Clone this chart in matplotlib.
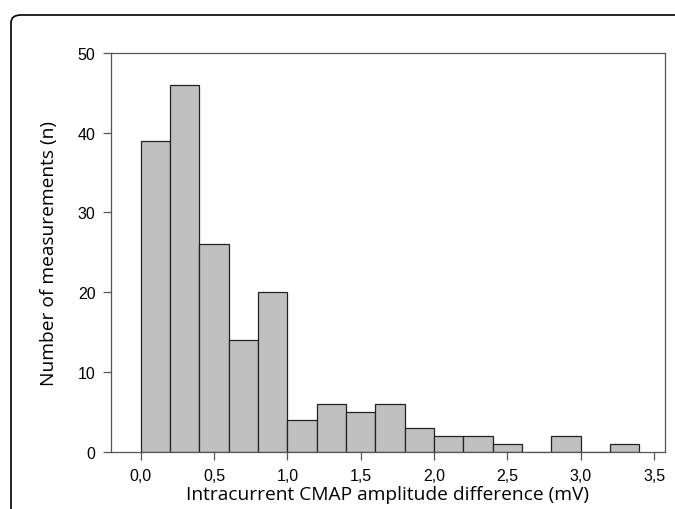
'''
histogram of intracurrent CMAP amplitude differences
'''
import numpy as np
import matplotlib
matplotlib.use('Agg')
import matplotlib.pyplot as plt
from matplotlib.patches import FancyBboxPatch
from matplotlib.ticker import FuncFormatter

## bin edges (mV) and counts
binLeft = [0.0, 0.2, 0.4, 0.6, 0.8, 1.0, 1.2, 1.4, 1.6, 1.8, 2.0, 2.2, 2.4, 2.6, 2.8, 3.0, 3.2]
counts = [39, 46, 26, 14, 20, 4, 6, 5, 6, 3, 2, 2, 1, 0, 2, 0, 1]
binWidth = 0.2
xTicks = [0.0, 0.5, 1.0, 1.5, 2.0, 2.5, 3.0, 3.5]
yTicks = [0, 10, 20, 30, 40, 50]


def main():
	fig = plt.figure(figsize=(6.75, 5.1), dpi=100)
	# rounded frame around the whole figure (cut at right and bottom)
	frame = FancyBboxPatch((11/675., -0.05), 1.0, 1.0 - 16/510. + 0.05,
		boxstyle="round,pad=0,rounding_size=0.015", transform=fig.transFigure,
		facecolor='none', edgecolor='black', linewidth=1.2, clip_on=False)
	fig.patches.append(frame)

	ax = fig.add_axes([110.7/675., 1 - 452.7/510., (665 - 110.7)/675., (452.7 - 54)/510.])
	ax.bar(binLeft, counts, width=binWidth, align='edge', color='#c0c0c0',
		edgecolor='#222222', linewidth=0.9)
	ax.set_xlim(-0.205, 3.574)
	ax.set_ylim(0, 50)
	ax.set_xticks(xTicks)
	ax.set_yticks(yTicks)
	ax.xaxis.set_major_formatter(FuncFormatter(lambda v, p: ('%.1f' % v).replace('.', ',')))
	for s in ax.spines.values():
		s.set_color('#555555')
		s.set_linewidth(0.9)
	ax.tick_params(direction='out', length=6, width=0.9, color='#555555',
		labelsize=11.5)
	ax.tick_params(axis='x', pad=6)
	ax.tick_params(axis='y', pad=5)
	for lab in ax.get_xticklabels() + ax.get_yticklabels():
		lab.set_family('Liberation Sans')
	ax.set_xlabel('Intracurrent CMAP amplitude difference (mV)', fontsize=13.8,
		family='Open Sans', labelpad=1)
	ax.set_ylabel('Number of measurements (n)', fontsize=13.8,
		family='Open Sans', labelpad=14)
	plt.savefig('out.png', dpi=100)


if __name__ == '__main__':
	main()
